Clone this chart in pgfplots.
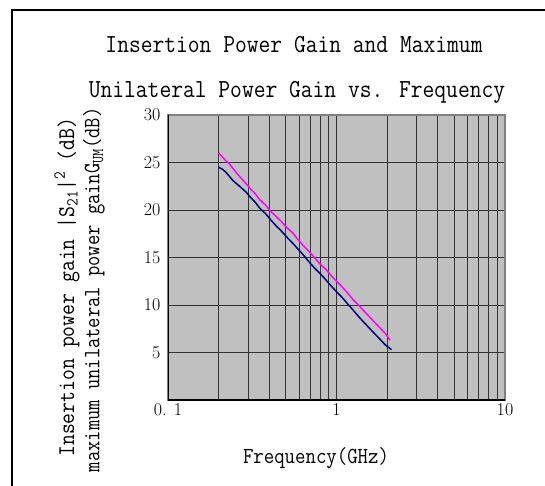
\documentclass[border=0pt]{standalone}
\usepackage{graphicx}
\usepackage{pgfplots}
\pgfplotsset{compat=1.18}
\definecolor{silver}{HTML}{C0C0C0}
\definecolor{gridc}{HTML}{333333}
\definecolor{navyline}{HTML}{000080}
\definecolor{magline}{HTML}{FF00FF}
\newcommand{\mono}[3][0.88]{{\fontsize{#2}{#2}\selectfont\ttfamily\scalebox{#1}[1]{#3}}}

\begin{document}
\begin{tikzpicture}
\path[use as bounding box] (0pt,0pt) rectangle (545pt,-486pt);
\draw[line width=2pt] (12pt,-490pt) -- (12pt,-10pt) -- (550pt,-10pt);
\node at (294pt,-45pt) {\mono{26}{Insertion Power Gain and Maximum}};
\node at (297pt,-92pt) {\mono{26}{Unilateral Power Gain vs. Frequency}};
\node[rotate=90, anchor=east] at (67pt,-114pt)
  {\mono{24}{Insertion power gain |S\textsubscript{21}|\textsuperscript{2} (dB)}};
\node[rotate=90, anchor=east] at (94pt,-104pt)
  {\mono[0.85]{23.5}{maximum unilateral power gainG\textsubscript{UM}(dB)}};
\node at (316pt,-458pt) {\mono{23}{Frequency(GHz)}};

\begin{axis}[
    at={(168pt,-400pt)}, anchor=south west,
    scale only axis, width=337pt, height=285pt,
    xmode=log, xmin=0.1, xmax=10, ymin=0, ymax=30,
    xtick={0.1,1,10}, xticklabels={0. 1,1,10},
    ytick={5,10,15,20,25,30}, yticklabels={5,10,15,20,25,30},
    xmajorgrids, xminorgrids, ymajorgrids,
    major grid style={draw=gridc, line width=1pt},
    minor grid style={draw=gridc, line width=1pt},
    major tick length=0pt, minor tick length=0pt,
    axis background/.style={fill=silver},
    axis line style={draw=gray, line width=1.5pt},
    tick label style={font=\fontsize{18}{18}\selectfont},
    yticklabel style={xshift=-4pt},
]
\addplot[magline, line width=1.5pt] coordinates {
    (0.20,26.0) (0.21,25.6) (0.22,25.2) (0.23,24.9) (0.24,24.5) (0.25,24.1)
    (0.27,23.4) (0.29,22.8) (0.31,22.2) (0.33,21.7) (0.35,21.1) (0.38,20.5)
    (0.41,19.8) (0.44,19.3) (0.47,18.8) (0.51,18.1) (0.55,17.6) (0.59,16.9)
    (0.64,16.2) (0.69,15.6) (0.74,15.0) (0.80,14.3) (0.86,13.8) (0.93,13.1)
    (1.00,12.5) (1.08,11.9) (1.16,11.3) (1.25,10.6) (1.35,10.0) (1.45,9.4)
    (1.56,8.8) (1.68,8.2) (1.81,7.6) (1.95,7.0) (2.08,6.3)
};
\addplot[navyline, line width=1.5pt] coordinates {
    (0.20,24.5) (0.21,24.3) (0.22,24.0) (0.23,23.6) (0.24,23.2) (0.25,22.9)
    (0.27,22.4) (0.29,21.9) (0.31,21.3) (0.33,20.8) (0.35,20.2) (0.38,19.6)
    (0.41,18.9) (0.44,18.3) (0.47,17.8) (0.51,17.1) (0.55,16.5) (0.59,15.9)
    (0.64,15.2) (0.69,14.5) (0.74,13.9) (0.80,13.3) (0.86,12.7) (0.93,12.0)
    (1.00,11.4) (1.08,10.8) (1.16,10.15) (1.25,9.5) (1.35,8.8) (1.45,8.2)
    (1.56,7.6) (1.68,7.0) (1.81,6.4) (1.95,5.8) (2.12,5.3)
};
\draw[black, line width=2pt] (rel axis cs:0,1) -- (rel axis cs:0,0) -- (rel axis cs:1,0);
\end{axis}
\end{tikzpicture}
\end{document}
